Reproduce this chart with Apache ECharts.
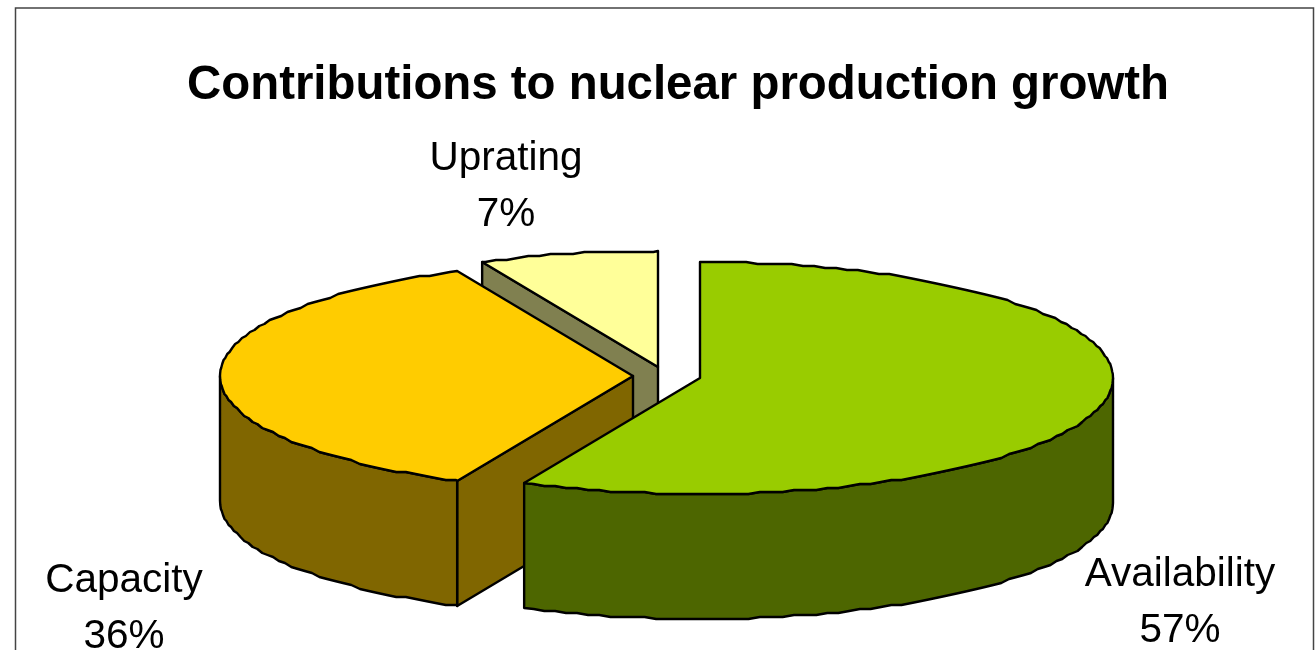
<!DOCTYPE html>
<html>
<head>
<meta charset="utf-8">
<style>html,body{margin:0;padding:0;background:#fff;overflow:hidden}#c{width:1315px;height:650px}</style>
<script src="https://cdn.jsdelivr.net/npm/echarts@6/dist/echarts.min.js"></script>
</head>
<body>
<div id="c"></div>
<script>
const categories = ['Availability', 'Capacity', 'Uprating'];
const shares = [57, 36, 7];
const topColors = ['#99CC00', '#FFCC00', '#FFFF99'];
const wallColors = ['#4D6600', '#806600', '#808050'];
const chartTitle = 'Contributions to nuclear production growth';

// Layout of the exploded 3-D pie (not data)
const apexes = [[700, 378], [633, 376], [658, 367]];
const labelPos = [[1180, 603], [124, 609], [506, 187]];
const RX = 413, RY = 116, DEPTH = 125;

const total = shares.reduce((a, b) => a + b, 0);
const startAngles = [];
shares.reduce((acc, v, i) => { startAngles[i] = acc; return acc + v; }, 0);
const toRad = v => echarts.number.linearMap(v, [0, total], [0, Math.PI * 2]);

// Rim of the ellipse, sampled at fixed angles and lightly snapped so the
// edge keeps the slight wobble of the low-resolution original
const STEP = 0.028;
function rim(c, a0, a1) {
  const at = a => [c[0] + RX * Math.sin(a), c[1] - RY * Math.cos(a)];
  const pts = [at(a0)];
  for (let k = Math.floor(a0 / STEP) + 1; k * STEP < a1; k++) {
    const p = at(k * STEP);
    pts.push([p[0], Math.round(p[1] / 2) * 2]);
  }
  if (a1 > a0) pts.push(at(a1));
  return pts;
}
const down = p => [p[0], p[1] + DEPTH];
const lineStyle = { stroke: '#000', lineWidth: 2.4, lineJoin: 'round' };

function renderSlice(params, api) {
  const i = api.value(0);
  const c = apexes[i];
  const a0 = toRad(startAngles[i]);
  const a1 = toRad(startAngles[i] + api.value(1));
  const wall = wallColors[i];
  const children = [];
  const poly = (points, fill) => children.push({
    type: 'polygon', shape: { points },
    style: Object.assign({ fill }, lineStyle)
  });

  // Radial cut walls: drawn only when the cut faces the viewer
  if (Math.sin(a0) < -1e-6) {
    const e = rim(c, a0, a0)[0];
    poly([c, e, down(e), down(c)], wall);
  }
  if (Math.sin(a1) > 1e-6) {
    const e = rim(c, a1, a1)[0];
    poly([e, c, down(c), down(e)], wall);
  }
  // Outer wall: only the near half of the ellipse is visible
  const v0 = Math.max(a0, Math.PI / 2), v1 = Math.min(a1, Math.PI * 1.5);
  if (v1 > v0) {
    const r = rim(c, v0, v1);
    poly(r.concat(r.slice().reverse().map(down)), wall);
  }
  // Top face
  poly([c].concat(rim(c, a0, a1)), topColors[i]);
  // Label
  children.push({
    type: 'text',
    x: labelPos[i][0], y: labelPos[i][1],
    style: {
      text: categories[i] + '\n' + api.value(1) + '%',
      fill: '#000', align: 'center', verticalAlign: 'middle',
      font: '40.5px "Liberation Sans", Arial, sans-serif', lineHeight: 56
    }
  });
  return { type: 'group', children };
}

const chart = echarts.init(document.getElementById('c'), null, { renderer: 'canvas' });
// Painted back to front: Uprating, Capacity, Availability
const drawOrder = [2, 1, 0];
chart.setOption({
  animation: false,
  backgroundColor: '#fff',
  title: {
    text: chartTitle, left: 673, top: 57, textAlign: 'center',
    textStyle: { fontFamily: '"Liberation Sans", Arial, sans-serif', fontWeight: 'bold', fontSize: 47.4, color: '#000' }
  },
  graphic: [{
    type: 'polyline', silent: true, z: -1,
    shape: { points: [[15.5, 650], [15.5, 8], [1313.5, 8], [1313.5, 650]] },
    style: { stroke: '#444', lineWidth: 1.5, fill: null }
  }],
  series: [{
    type: 'custom',
    coordinateSystem: 'none',
    renderItem: renderSlice,
    data: drawOrder.map(i => ({ name: categories[i], value: [i, shares[i]] })),
    silent: true
  }]
});
</script>
</body>
</html>
